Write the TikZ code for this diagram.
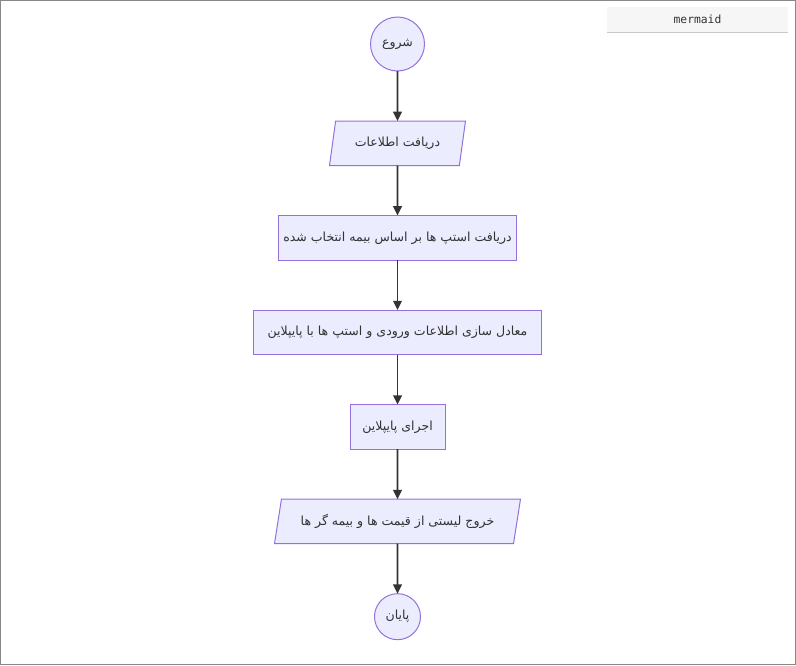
\documentclass[tikz,border=0pt]{standalone}
\usepackage{fontspec}
\newfontfamily\arabicfont[Script=Arabic]{DejaVu Sans}
\setmonofont{DejaVu Sans Mono}
\TeXXeTstate=1
\definecolor{MMFill}{HTML}{ECECFF}
\definecolor{MMStroke}{HTML}{9370DB}
\definecolor{MMText}{HTML}{333333}
\definecolor{MMFrame}{HTML}{888888}
\definecolor{MMBadge}{HTML}{F6F6F6}
\definecolor{MMBadgeLine}{HTML}{C8C8C8}
\usepackage{tikz}
\usetikzlibrary{arrows.meta, positioning, shapes.geometric}

\begin{document}
\begin{tikzpicture}[
  x=0.75pt, y=-0.75pt,
  node distance=37.5pt,
  base/.style={
    draw=MMStroke, fill=MMFill, line width=0.75pt, outer sep=0pt,
    text=MMText, font=\arabicfont\fontsize{9.4}{11}\selectfont,
    minimum height=33.4pt, inner sep=0pt
  },
  terminal/.style={base, circle},
  process/.style={base, rectangle},
  io/.style={base, trapezium, trapezium left angle=64, trapezium right angle=116,
    trapezium stretches body},
  arrow/.style={-{Triangle[length=7pt, width=6.5pt]}, line width=1.4pt, color=MMText},
  badge/.style={rectangle, fill=MMBadge, minimum width=135.75pt, minimum height=18.75pt,
    font=\ttfamily\fontsize{8.5}{10}\selectfont, text=MMText}
]
\useasboundingbox (0,0) rectangle (796,665);
\draw[MMFrame, line width=0.75pt] (0.5,0.5) rectangle (795.5,664.5);

% mermaid badge
\node[badge] (tag) at (697.5,19.5) {mermaid};
\draw[MMBadgeLine, line width=0.75pt] (tag.south west) -- (tag.south east);

% flowchart
\node[terminal, minimum size=40.5pt] (start) at (397.5,44) {\beginR شروع\endR};
\node[io, below=of start, minimum width=102pt] (input) {\beginR دریافت اطلاعات\endR};
\node[process, below=of input, minimum width=178.5pt] (steps) {\beginR دریافت استپ ها بر اساس بیمه انتخاب شده\endR};
\node[process, below=of steps, minimum width=216pt] (match) {\beginR معادل سازی اطلاعات ورودی و استپ ها با پایپلاین\endR};
\node[process, below=of match, minimum width=71.25pt] (run) {\beginR اجرای پایپلاین\endR};
\node[io, below=of run, minimum width=184.5pt] (output) {\beginR خروج لیستی از قیمت ها و بیمه گر ها\endR};
\node[terminal, below=of output, minimum size=34.5pt] (stop) {\beginR پایان\endR};

\draw[arrow] (start) -- (input);
\draw[arrow] (input) -- (steps);
\draw[arrow] (steps) -- (match);
\draw[arrow] (match) -- (run);
\draw[arrow] (run) -- (output);
\draw[arrow] (output) -- (stop);
\end{tikzpicture}
\end{document}
